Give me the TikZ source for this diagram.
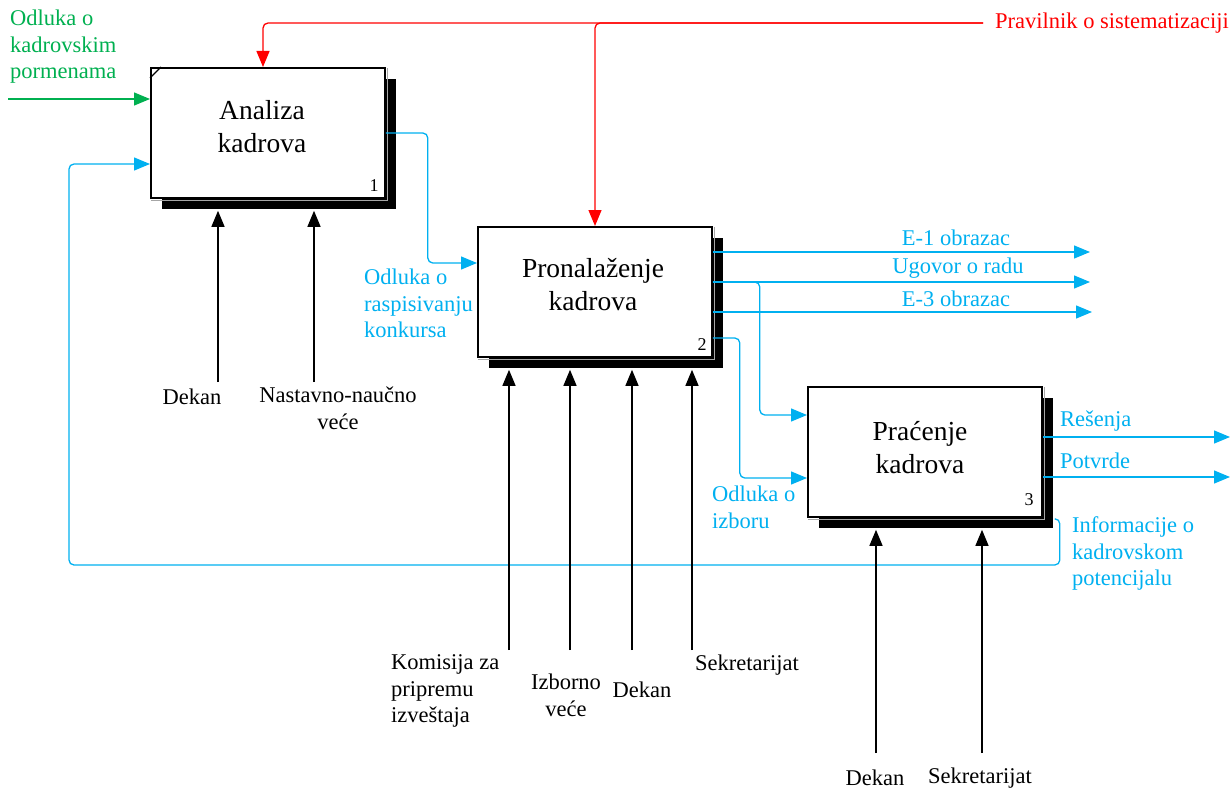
\documentclass[tikz,border=0pt]{standalone}
\usepackage{fontspec}
\setmainfont{Liberation Serif}
\usetikzlibrary{arrows.meta,calc}
\definecolor{idefblue}{RGB}{0,176,240}
\definecolor{idefgreen}{RGB}{0,176,80}
\definecolor{idefred}{RGB}{255,0,0}

\begin{document}
\begin{tikzpicture}[x=1pt,y=-1pt,
  tip/.style={-{Triangle[length=16pt,width=13pt]}},
  box/.style={draw=black,line width=1.8pt,fill=white,minimum width=234pt,
    minimum height=130pt,anchor=north west,inner sep=0pt},
  rim/.style={draw=black!35,line width=1pt},
  title/.style={font=\fontsize{27.5}{33}\selectfont,align=center,inner sep=0pt},
  boxno/.style={font=\fontsize{18}{20}\selectfont,inner sep=0pt},
  lbl/.style={font=\fontsize{22.5}{26.5}\selectfont,inner sep=0pt},
  lblblue/.style={lbl,text=idefblue},
  flowblue/.style={draw=idefblue,line width=1.3pt,rounded corners=5pt,tip},
  flowred/.style={draw=idefred,line width=1.3pt,rounded corners=5pt,tip},
  flowgreen/.style={draw=idefgreen,line width=1.3pt,tip},
  mech/.style={draw=black,line width=1.3pt,tip}
]
\useasboundingbox (0,0) rectangle (1231,789);

% ---------- activity boxes with drop shadows ----------
\fill (162,79) rectangle (396,209);
\fill (489,238) rectangle (723,368);
\fill (819,398) rectangle (1053,528);

\node[box] (b1) at (150,67) {};
\node[box] (b2) at (477,226) {};
\node[box] (b3) at (807,386) {};

\foreach \b in {b1,b2,b3}{
  \draw[rim] ($(\b.north east)+(1.8,1)$) -- ($(\b.south east)+(1.8,1.8)$) -- ($(\b.south west)+(1,1.8)$);
}

% corner mark of the first box
\draw[line width=1.3pt] ($(b1.north west)+(0,11)$) -- ($(b1.north west)+(11,0)$);

\coordinate (s1) at ($(b1.south)+(0,12)$);
\coordinate (s2) at ($(b2.south)+(0,12)$);
\coordinate (s3) at ($(b3.south)+(0,12)$);

\node[title] (t1) at (262,126.5) {Analiza\\kadrova};
\node[title] (t2) at (593,285) {Pronalaženje\\kadrova};
\node[title] (t3) at (920,447.5) {Praćenje\\kadrova};

\node[boxno] (n1) at (374,186) {1};
\node[boxno] (n2) at (702,345) {2};
\node[boxno] (n3) at (1029,500) {3};

% ---------- control (red) ----------
\node[lbl,text=idefred,anchor=west,inner xsep=12pt] (pravilnik) at (983,23) {Pravilnik o sistematizaciji};
\draw[flowred] (pravilnik.west) -| ($(b1.north west)+(113,0)$);
\draw[flowred] (pravilnik.west) -| ($(b2.north west)+(118,0)$);

% ---------- input (green) ----------
\node[lbl,text=idefgreen,align=left,anchor=west] (odlkadr) at (10,47) {Odluka o\\kadrovskim\\pormenama};
\coordinate (gsrc) at (8,99);
\draw[flowgreen] (gsrc) -- (b1.west |- gsrc);

% ---------- box 1 to box 2 ----------
\draw[flowblue] ($(b1.north east)+(0,66)$) -- ++(42,0) |- ($(b2.north west)+(0,37)$);
\node[lblblue,align=left,anchor=west] (raspis) at (364,303.5) {Odluka o\\raspisivanju\\konkursa};

% ---------- outputs of box 2 ----------
\coordinate (e1end) at (1090,252);
\coordinate (ugend) at (1090,282);
\coordinate (e3end) at (1092,312);
\draw[flowblue] ($(b2.north east)+(0,26)$) -- (e1end);
\draw[flowblue] ($(b2.north east)+(0,56)$) -- (ugend);
\draw[flowblue] ($(b2.north east)+(0,86)$) -- (e3end);
\draw[flowblue] ($(b2.north east)+(0,56)$) -- ++(47,0) |- ($(b3.north west)+(0,29)$);
\draw[flowblue] ($(b2.north east)+(0,112)$) -- ++(27,0) |- ($(b3.north west)+(0,92)$);

\node[lblblue] (e1lbl) at (956,238) {E-1 obrazac};
\node[lblblue] (uglbl) at (958,268) {Ugovor o radu};
\node[lblblue] (e3lbl) at (956,299) {E-3 obrazac};
\node[lblblue,align=left,anchor=west] (izbor) at (712,507.5) {Odluka o\\izboru};

% ---------- outputs of box 3 ----------
\coordinate (resend) at (1230,437);
\coordinate (potend) at (1230,477);
\draw[flowblue] ($(b3.north east)+(0,51)$) -- (resend);
\draw[flowblue] ($(b3.north east)+(0,91)$) -- (potend);
\node[lblblue,anchor=west] (reslbl) at (1060,421) {Rešenja};
\node[lblblue,anchor=west] (potlbl) at (1060,461) {Potvrde};

% feedback loop back to box 1
\draw[flowblue] ($(b3.south east)+(12,1)$) -- ++(5,0) |- (69,565) |- ($(b1.north west)+(0,97)$);
\node[lblblue,align=left,anchor=west] (info) at (1072,553.5) {Informacije o\\kadrovskom\\potencijalu};

% ---------- mechanisms ----------
\coordinate (m1a) at (218,382);
\coordinate (m1b) at (314,382);
\draw[mech] (m1a) -- (m1a |- s1);
\draw[mech] (m1b) -- (m1b |- s1);
\node[lbl] (dekan1) at (192,397) {Dekan};
\node[lbl,align=center] (nnv) at (338,408.5) {Nastavno-naučno\\veće};

\coordinate (m2a) at (509,650);
\coordinate (m2b) at (570,650);
\coordinate (m2c) at (632,650);
\coordinate (m2d) at (692,650);
\draw[mech] (m2a) -- (m2a |- s2);
\draw[mech] (m2b) -- (m2b |- s2);
\draw[mech] (m2c) -- (m2c |- s2);
\draw[mech] (m2d) -- (m2d |- s2);
\node[lbl,align=left,anchor=west] (komisija) at (391,691) {Komisija za\\pripremu\\izveštaja};
\node[lbl,align=center] (izborno) at (566,695.5) {Izborno\\veće};
\node[lbl] (dekan2) at (642,690) {Dekan};
\node[lbl,anchor=west] (sekr2) at (695,665) {Sekretarijat};

\coordinate (m3a) at (876,753);
\coordinate (m3b) at (982,753);
\draw[mech] (m3a) -- (m3a |- s3);
\draw[mech] (m3b) -- (m3b |- s3);
\node[lbl] (dekan3) at (875,778) {Dekan};
\node[lbl] (sekr3) at (980,778) {Sekretarijat};
\end{tikzpicture}
\end{document}
